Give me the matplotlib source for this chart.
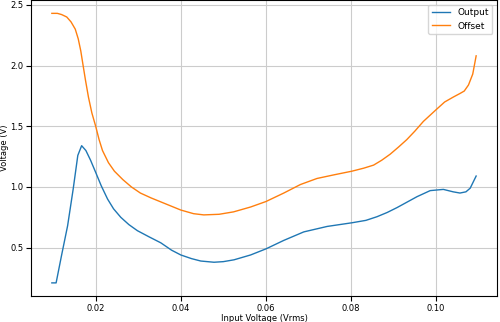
"""
Output and offset voltage versus input voltage.
"""

import matplotlib.pyplot as plt

output_x = [0.0097, 0.0107, 0.0120, 0.0134, 0.0147, 0.0158, 0.0167, 0.0177,
            0.0188, 0.0200, 0.0213, 0.0228, 0.0242, 0.0259, 0.0278, 0.0298,
            0.0325, 0.0353, 0.0378, 0.0400, 0.0425, 0.0447, 0.0478, 0.0500,
            0.0525, 0.0564, 0.0600, 0.0642, 0.0689, 0.0744, 0.0802, 0.0835,
            0.0861, 0.0885, 0.0908, 0.0955, 0.0986, 0.1017, 0.1040, 0.1056,
            0.1070, 0.1080, 0.1094]
output_v = [0.21, 0.21, 0.44, 0.68, 0.98, 1.26, 1.34, 1.30,
            1.22, 1.12, 1.01, 0.90, 0.82, 0.75, 0.69, 0.64,
            0.59, 0.54, 0.48, 0.44, 0.41, 0.39, 0.38, 0.385,
            0.40, 0.44, 0.49, 0.56, 0.63, 0.675, 0.705, 0.725,
            0.755, 0.79, 0.83, 0.92, 0.97, 0.98, 0.96, 0.95,
            0.96, 0.99, 1.09]

offset_x = [0.0097, 0.0110, 0.0120, 0.0132, 0.0142, 0.0152, 0.0159, 0.0165,
            0.0170, 0.0176, 0.0183, 0.0191, 0.0200, 0.0208, 0.0216, 0.0230,
            0.0244, 0.0264, 0.0284, 0.0305, 0.0330, 0.0365, 0.0400, 0.0430,
            0.0454, 0.0490, 0.0524, 0.0564, 0.0600, 0.0642, 0.0681, 0.0720,
            0.0760, 0.0802, 0.0830, 0.0853, 0.0872, 0.0892, 0.0912, 0.0931,
            0.0950, 0.0970, 0.1001, 0.1020, 0.1040, 0.1056, 0.1066, 0.1076,
            0.1086, 0.1094]
offset_v = [2.43, 2.43, 2.42, 2.40, 2.36, 2.30, 2.22, 2.12,
            2.01, 1.88, 1.74, 1.61, 1.50, 1.39, 1.30, 1.20,
            1.13, 1.06, 1.00, 0.95, 0.91, 0.86, 0.81, 0.78,
            0.77, 0.775, 0.795, 0.835, 0.88, 0.95, 1.02, 1.07,
            1.10, 1.13, 1.155, 1.18, 1.22, 1.27, 1.33, 1.39,
            1.46, 1.54, 1.64, 1.70, 1.74, 1.77, 1.79, 1.84,
            1.93, 2.08]

fig = plt.figure(figsize=(5, 3.22), dpi=100)
ax = fig.add_axes([0.062, 0.08, 0.932, 0.92])
ax.plot(output_x, output_v, color="#1f77b4", linewidth=1, label="Output")
ax.plot(offset_x, offset_v, color="#ff7f0e", linewidth=1, label="Offset")
ax.set_xlim(0.0048, 0.1143)
ax.set_ylim(0.1, 2.54)
ax.set_xticks([0.02, 0.04, 0.06, 0.08, 0.10])
ax.set_yticks([0.5, 1.0, 1.5, 2.0, 2.5])
ax.tick_params(labelsize=6, pad=2)
ax.set_xlabel("Input Voltage (Vrms)", fontsize=6, labelpad=1)
ax.set_ylabel("Voltage (V)", fontsize=6, labelpad=1)
ax.grid(True, color="#cccccc", linewidth=0.8)
ax.legend(loc="upper right", fontsize=6.5)
fig.savefig("out.png")
